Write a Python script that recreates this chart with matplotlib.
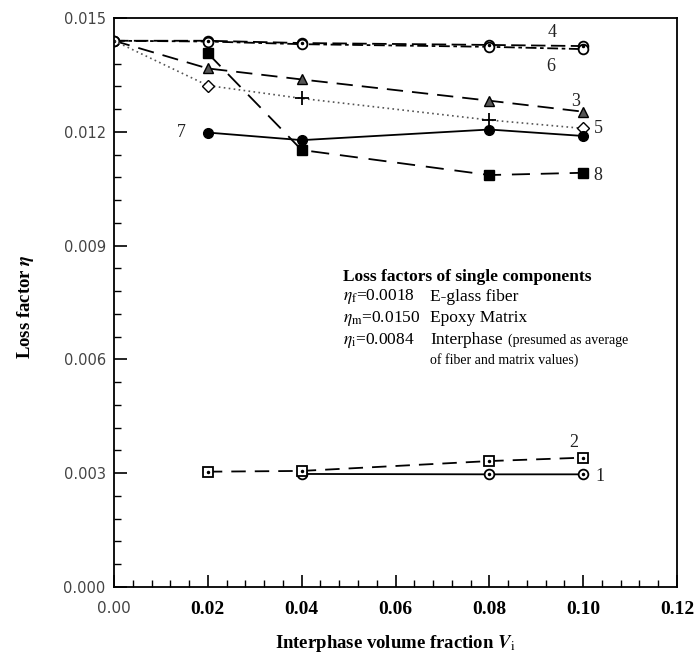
#
# encoding:utf-8
#
# Loss factor vs interphase volume fraction, curves 1-8
#
import matplotlib
matplotlib.use('Agg')
import matplotlib.pyplot as plt
from matplotlib.ticker import MultipleLocator, FixedLocator

plt.rcParams['mathtext.fontset'] = 'stix'

# 数据
x_full = [0.0, 0.02, 0.04, 0.08, 0.10]
x_no0 = [0.02, 0.04, 0.08, 0.10]
x_c1 = [0.04, 0.08, 0.10]

eta_1 = [0.00298, 0.00297, 0.00297]
eta_2 = [0.00304, 0.00306, 0.00332, 0.00341]
eta_3 = [0.0144, 0.01367, 0.01338, 0.01282, 0.01253]
eta_4 = [0.0144, 0.0144, 0.01434, 0.01429, 0.01426]
eta_5 = [0.0144, 0.01322, 0.01288, 0.01231, 0.01209]
eta_6 = [0.0144, 0.01438, 0.01431, 0.01424, 0.01418]
eta_7 = [0.01198, 0.01178, 0.01206, 0.01189]
eta_8 = [0.01407, 0.01152, 0.01086, 0.01092]

curve_labels = ['1', '2', '3', '4', '5', '6', '7', '8']
label_pos = [(0.1036, 0.00292), (0.0980, 0.0038), (0.0983, 0.01279), (0.0934, 0.01463),
             (0.1032, 0.01210), (0.0930, 0.01371), (0.0143, 0.01199), (0.1032, 0.01084)]

xticks = [0.00, 0.02, 0.04, 0.06, 0.08, 0.10, 0.12]
yticks = [0.000, 0.003, 0.006, 0.009, 0.012, 0.015]

fig = plt.figure(figsize=(6.95, 6.57), dpi=100)
ax = fig.add_axes([114 / 695, 1 - 587 / 657, 563 / 695, 569 / 657])

k = 'black'
lw = 1.3
ms = 7

# 曲线1：实线，圆圈带点
ax.plot(x_c1, eta_1, color=k, lw=lw, ls='-', marker='o', ms=ms, mfc='white', mec=k, mew=1.3)
ax.plot(x_c1, eta_1, ls='none', marker='.', ms=3, color=k)
# 曲线2：长虚线，方框带点
ax.plot(x_no0, eta_2, color=k, lw=lw, ls=(0, (8, 5)), marker='s', ms=ms, mfc='white', mec=k, mew=1.3)
ax.plot(x_no0, eta_2, ls='none', marker='.', ms=3, color=k)
# 曲线3：虚线，三角
ax.plot(x_full, eta_3, color=k, lw=lw, ls=(0, (9, 5)), marker='^', ms=ms, mfc='#555555', mec=k,
        markevery=[1, 2, 3, 4])
# 曲线4、6：几乎重合
ax.plot(x_full, eta_4, color=k, lw=lw, ls=(0, (8, 3)), marker='o', ms=ms, mfc='white', mec=k, mew=1.3)
ax.plot(x_full, eta_6, color=k, lw=lw, ls=(0, (6, 2, 2, 2)), marker='o', ms=ms, mfc='white', mec=k, mew=1.3)
ax.plot(x_full, eta_4, ls='none', marker='.', ms=3, color=k)
# 曲线5：点线，菱形和十字
ax.plot(x_full, eta_5, color='#555555', lw=1.2, ls=(0, (1, 2)), marker='D', ms=6, mfc='white', mec=k,
        markevery=[1, 4])
ax.plot(x_full, eta_5, ls='none', marker='+', ms=10, mew=1.3, color=k, markevery=[2, 3])
# 曲线7：实线，实心圆
ax.plot(x_no0, eta_7, color=k, lw=lw, ls='-', marker='o', ms=ms, mfc=k, mec=k)
# 曲线8：长虚线，实心方块
ax.plot(x_no0, eta_8, color=k, lw=lw, ls=(0, (10, 6)), marker='s', ms=ms, mfc=k, mec=k)

for lab, (tx, ty) in zip(curve_labels, label_pos):
    ax.text(tx, ty, lab, fontsize=13, family='Liberation Serif', ha='center', va='center', color='#222222')

ax.set_xlim(0, 0.12)
ax.set_ylim(0, 0.015)
ax.xaxis.set_major_locator(FixedLocator(xticks))
ax.yaxis.set_major_locator(FixedLocator(yticks))
ax.xaxis.set_minor_locator(MultipleLocator(0.004))
ax.yaxis.set_minor_locator(MultipleLocator(0.0006))
ax.tick_params(which='major', direction='in', length=9, width=1.2, color=k)
ax.tick_params(which='minor', direction='in', length=5, width=1.0, color=k)
ax.tick_params(axis='x', pad=10)
ax.tick_params(axis='y', pad=6)
for s in ax.spines.values():
    s.set_linewidth(1.3)

# 纵轴刻度文本：灰色无衬线
ax.set_yticklabels(['%.3f' % v for v in yticks], family='DejaVu Sans', fontsize=10.5, color='#444444')
# 横轴刻度文本：0.00为无衬线，其余为粗体衬线
ax.set_xticklabels(['%.2f' % v for v in xticks])
for i, t in enumerate(ax.get_xticklabels()):
    if i == 0:
        t.set_family('DejaVu Sans')
        t.set_fontsize(11)
        t.set_color('#444444')
    else:
        t.set_family('Liberation Serif')
        t.set_fontweight('bold')
        t.set_fontsize(14)

fig.text(25 / 695, 1 - 307 / 657, r'Loss factor $\boldsymbol{\eta}$', rotation=90, ha='center', va='center',
         family='Liberation Serif', fontweight='bold', fontsize=13.5)
fig.text(395 / 695, 1 - 643 / 657, r'Interphase volume fraction $\boldsymbol{V}_{\rm i}$', ha='center', va='center',
         family='Liberation Serif', fontweight='bold', fontsize=13.5)

# 单组分损耗因子说明
tx0 = 343 / 695
tx1 = 430 / 695
fs = 12.5
fig.text(tx0, 1 - 277 / 657, 'Loss factors of single components', family='Liberation Serif',
         fontweight='bold', fontsize=fs, va='center')
fig.text(tx0, 1 - 297 / 657, r'$\eta_{\rm f}$=0.0018', family='Liberation Serif', fontsize=fs, va='center')
fig.text(tx1, 1 - 297 / 657, 'E-glass fiber', family='Liberation Serif', fontsize=fs, va='center')
fig.text(tx0, 1 - 318 / 657, r'$\eta_{\rm m}$=0.0150', family='Liberation Serif', fontsize=fs, va='center')
fig.text(tx1, 1 - 318 / 657, 'Epoxy Matrix', family='Liberation Serif', fontsize=fs, va='center')
fig.text(tx0, 1 - 340 / 657, r'$\eta_{\rm i}$=0.0084', family='Liberation Serif', fontsize=fs, va='center')
fig.text(tx1, 1 - 340 / 657, 'Interphase', family='Liberation Serif', fontsize=fs, va='center')
fig.text(508 / 695, 1 - 340 / 657, '(presumed as average', family='Liberation Serif', fontsize=10, va='center')
fig.text(tx1, 1 - 360 / 657, 'of fiber and matrix values)', family='Liberation Serif', fontsize=10, va='center')

plt.savefig('out.png', dpi=100)
plt.close()
